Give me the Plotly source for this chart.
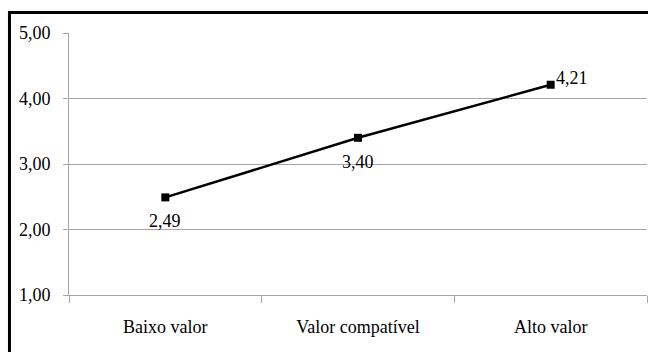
import plotly.graph_objects as go

categories = ["Baixo valor", "Valor compatível", "Alto valor"]
values = [2.49, 3.40, 4.21]
y_ticks = [1, 2, 3, 4, 5]

FONT = "Times New Roman, Liberation Serif, serif"
GRID = "#a6a6a6"

fig = go.Figure()
fig.add_trace(go.Scatter(
    x=categories, y=values,
    mode="lines+markers",
    line=dict(color="black", width=2.5),
    marker=dict(symbol="square", size=8, color="black"),
    cliponaxis=False,
    showlegend=False,
    hoverinfo="skip",
))

# data labels: first two below the point, last one up-right
label_style = [
    dict(xanchor="center", yanchor="middle", xshift=0, yshift=-24),
    dict(xanchor="center", yanchor="middle", xshift=0, yshift=-24),
    dict(xanchor="left", yanchor="middle", xshift=3, yshift=7),
]
for cat, val, st in zip(categories, values, label_style):
    fig.add_annotation(x=cat, y=val, text=f"{val:.2f}".replace(".", ","),
                       showarrow=False, font=dict(family=FONT, size=18, color="black"),
                       **st)

fig.update_layout(
    width=648, height=352,
    margin=dict(l=69, r=1, t=32.5, b=57.3),
    paper_bgcolor="white", plot_bgcolor="white",
    separators=",.",
    font=dict(family=FONT, size=18, color="black"),
    xaxis=dict(
        type="category", range=[-0.5, 2.5],
        tickson="boundaries", ticks="outside", ticklen=7, tickcolor=GRID,
        showline=True, linecolor=GRID, linewidth=1,
        showgrid=False, zeroline=False,
        ticklabelstandoff=15,
        tickfont=dict(family=FONT, size=18),
    ),
    yaxis=dict(
        range=[1, 5], tickvals=y_ticks, tickformat=".2f",
        ticks="outside", ticklen=5, tickcolor=GRID,
        showline=True, linecolor=GRID, linewidth=1,
        showgrid=True, gridcolor=GRID, gridwidth=1,
        zeroline=False,
        ticklabelstandoff=9,
        tickfont=dict(family=FONT, size=18),
    ),
)

# outer chart frame (left and top edges visible; others are cropped away)
fig.add_shape(type="rect", xref="paper", yref="paper",
              x0=-0.103, x1=1.2, y0=-0.5, y1=1.078,
              line=dict(color="black", width=3), layer="above")

fig.write_html("out.html", config={"displayModeBar": False},
               post_script="document.body.style.margin='0';")
